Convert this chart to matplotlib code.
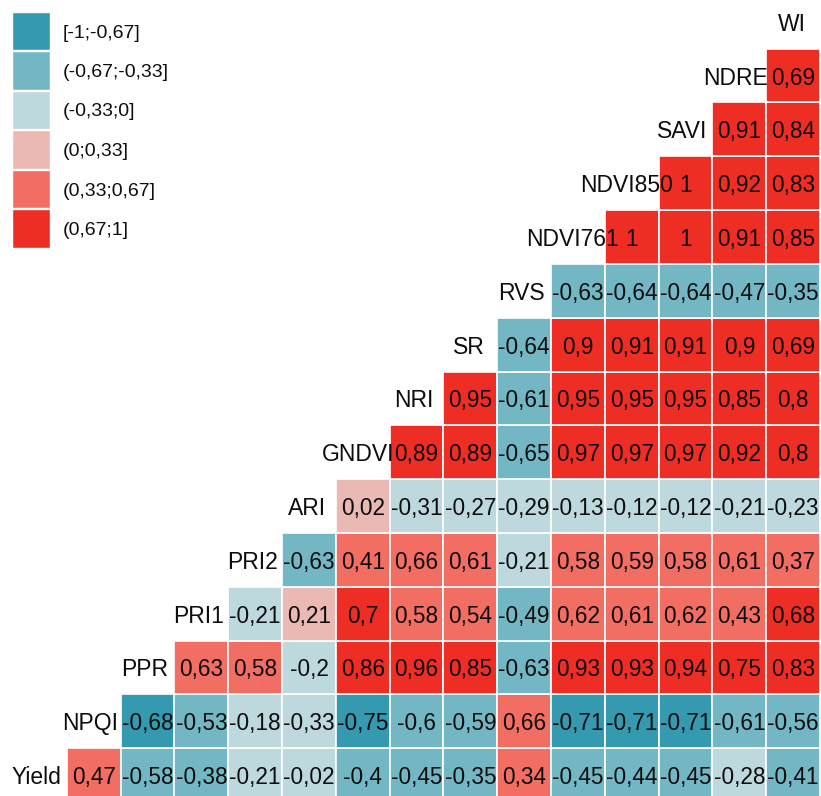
import matplotlib
matplotlib.use('agg')
import matplotlib.pyplot as plt
from matplotlib.patches import Rectangle
import numpy as np

plt.rcParams['font.family'] = ['Liberation Sans', 'DejaVu Sans']

# variable order, bottom row to top row (also column order left to right)
labels = ["Yield", "NPQI", "PPR", "PRI1", "PRI2", "ARI", "GNDVI", "NRI",
          "SR", "RVS", "NDVI761", "NDVI850", "SAVI", "NDRE", "WI"]

# correlations of each variable with the variables that follow it
r_yield = [0.47, -0.58, -0.38, -0.21, -0.02, -0.4, -0.45, -0.35, 0.34, -0.45, -0.44, -0.45, -0.28, -0.41]
r_npqi = [-0.68, -0.53, -0.18, -0.33, -0.75, -0.6, -0.59, 0.66, -0.71, -0.71, -0.71, -0.61, -0.56]
r_ppr = [0.63, 0.58, -0.2, 0.86, 0.96, 0.85, -0.63, 0.93, 0.93, 0.94, 0.75, 0.83]
r_pri1 = [-0.21, 0.21, 0.7, 0.58, 0.54, -0.49, 0.62, 0.61, 0.62, 0.43, 0.68]
r_pri2 = [-0.63, 0.41, 0.66, 0.61, -0.21, 0.58, 0.59, 0.58, 0.61, 0.37]
r_ari = [0.02, -0.31, -0.27, -0.29, -0.13, -0.12, -0.12, -0.21, -0.23]
r_gndvi = [0.89, 0.89, -0.65, 0.97, 0.97, 0.97, 0.92, 0.8]
r_nri = [0.95, -0.61, 0.95, 0.95, 0.95, 0.85, 0.8]
r_sr = [-0.64, 0.9, 0.91, 0.91, 0.9, 0.69]
r_rvs = [-0.63, -0.64, -0.64, -0.47, -0.35]
r_ndvi761 = [1, 1, 0.91, 0.85]
r_ndvi850 = [1, 0.92, 0.83]
r_savi = [0.91, 0.84]
r_ndre = [0.69]

rows = [r_yield, r_npqi, r_ppr, r_pri1, r_pri2, r_ari, r_gndvi, r_nri,
        r_sr, r_rvs, r_ndvi761, r_ndvi850, r_savi, r_ndre, []]

bin_labels = ["[-1;-0,67]", "(-0,67;-0,33]", "(-0,33;0]", "(0;0,33]", "(0,33;0,67]", "(0,67;1]"]
bin_colors = ["#3599AF", "#74B7C4", "#BED9DD", "#EAB9B4", "#F26E63", "#EE2E24"]
# -0,33 in the chart is a rounded value that sits in the (-0,33;0] class
bin_edges = [-0.67, -0.335, 0, 0.33, 0.67]

W, H = 821, 796
fig = plt.figure(figsize=(W / 100, H / 100), dpi=100)
ax = fig.add_axes([0, 0, 1, 1])
ax.set_xlim(-0.743, 14.517)
ax.set_ylim(-0.39, 14.405)
ax.axis('off')

diag_texts = []
for i, vals in enumerate(rows):
    for k, v in enumerate(vals):
        j = i + 1 + k
        c = bin_colors[np.digitize(v, bin_edges, right=True)]
        ax.add_patch(Rectangle((j - 0.5, i - 0.5), 1, 1, facecolor=c,
                               edgecolor='white', linewidth=1.2, zorder=1))
        txt = ('%g' % v).replace('.', ',')
        ax.text(j, i, txt, ha='center', va='center_baseline', fontsize=16.3,
                color='#0d0d0d', zorder=2)
    t = ax.text(i, i, labels[i], ha='center', va='center_baseline',
                fontsize=16.5, color='#0d0d0d', zorder=3)
    diag_texts.append(t)

# ggcorr-like horizontal justification of the diagonal labels
fig.canvas.draw()
renderer = fig.canvas.get_renderer()
px_per_unit = W / (14.517 + 0.743)
for t in diag_texts:
    w = t.get_window_extent(renderer).width
    x, y = t.get_position()
    t.set_position((x - 0.06 * w / px_per_unit, y))

# legend
for n, (lab, c) in enumerate(zip(bin_labels, bin_colors)):
    top = 12 + n * 39.5
    fig.add_artist(Rectangle((12 / W, 1 - (top + 38) / H), 38 / W, 38 / H,
                             facecolor=c, edgecolor='white', linewidth=1,
                             transform=fig.transFigure))
    fig.text(63 / W, 1 - (top + 19) / H, lab, ha='left', va='center_baseline',
             fontsize=14, color='#0d0d0d')

plt.savefig('out.png', dpi=100)
plt.close()
